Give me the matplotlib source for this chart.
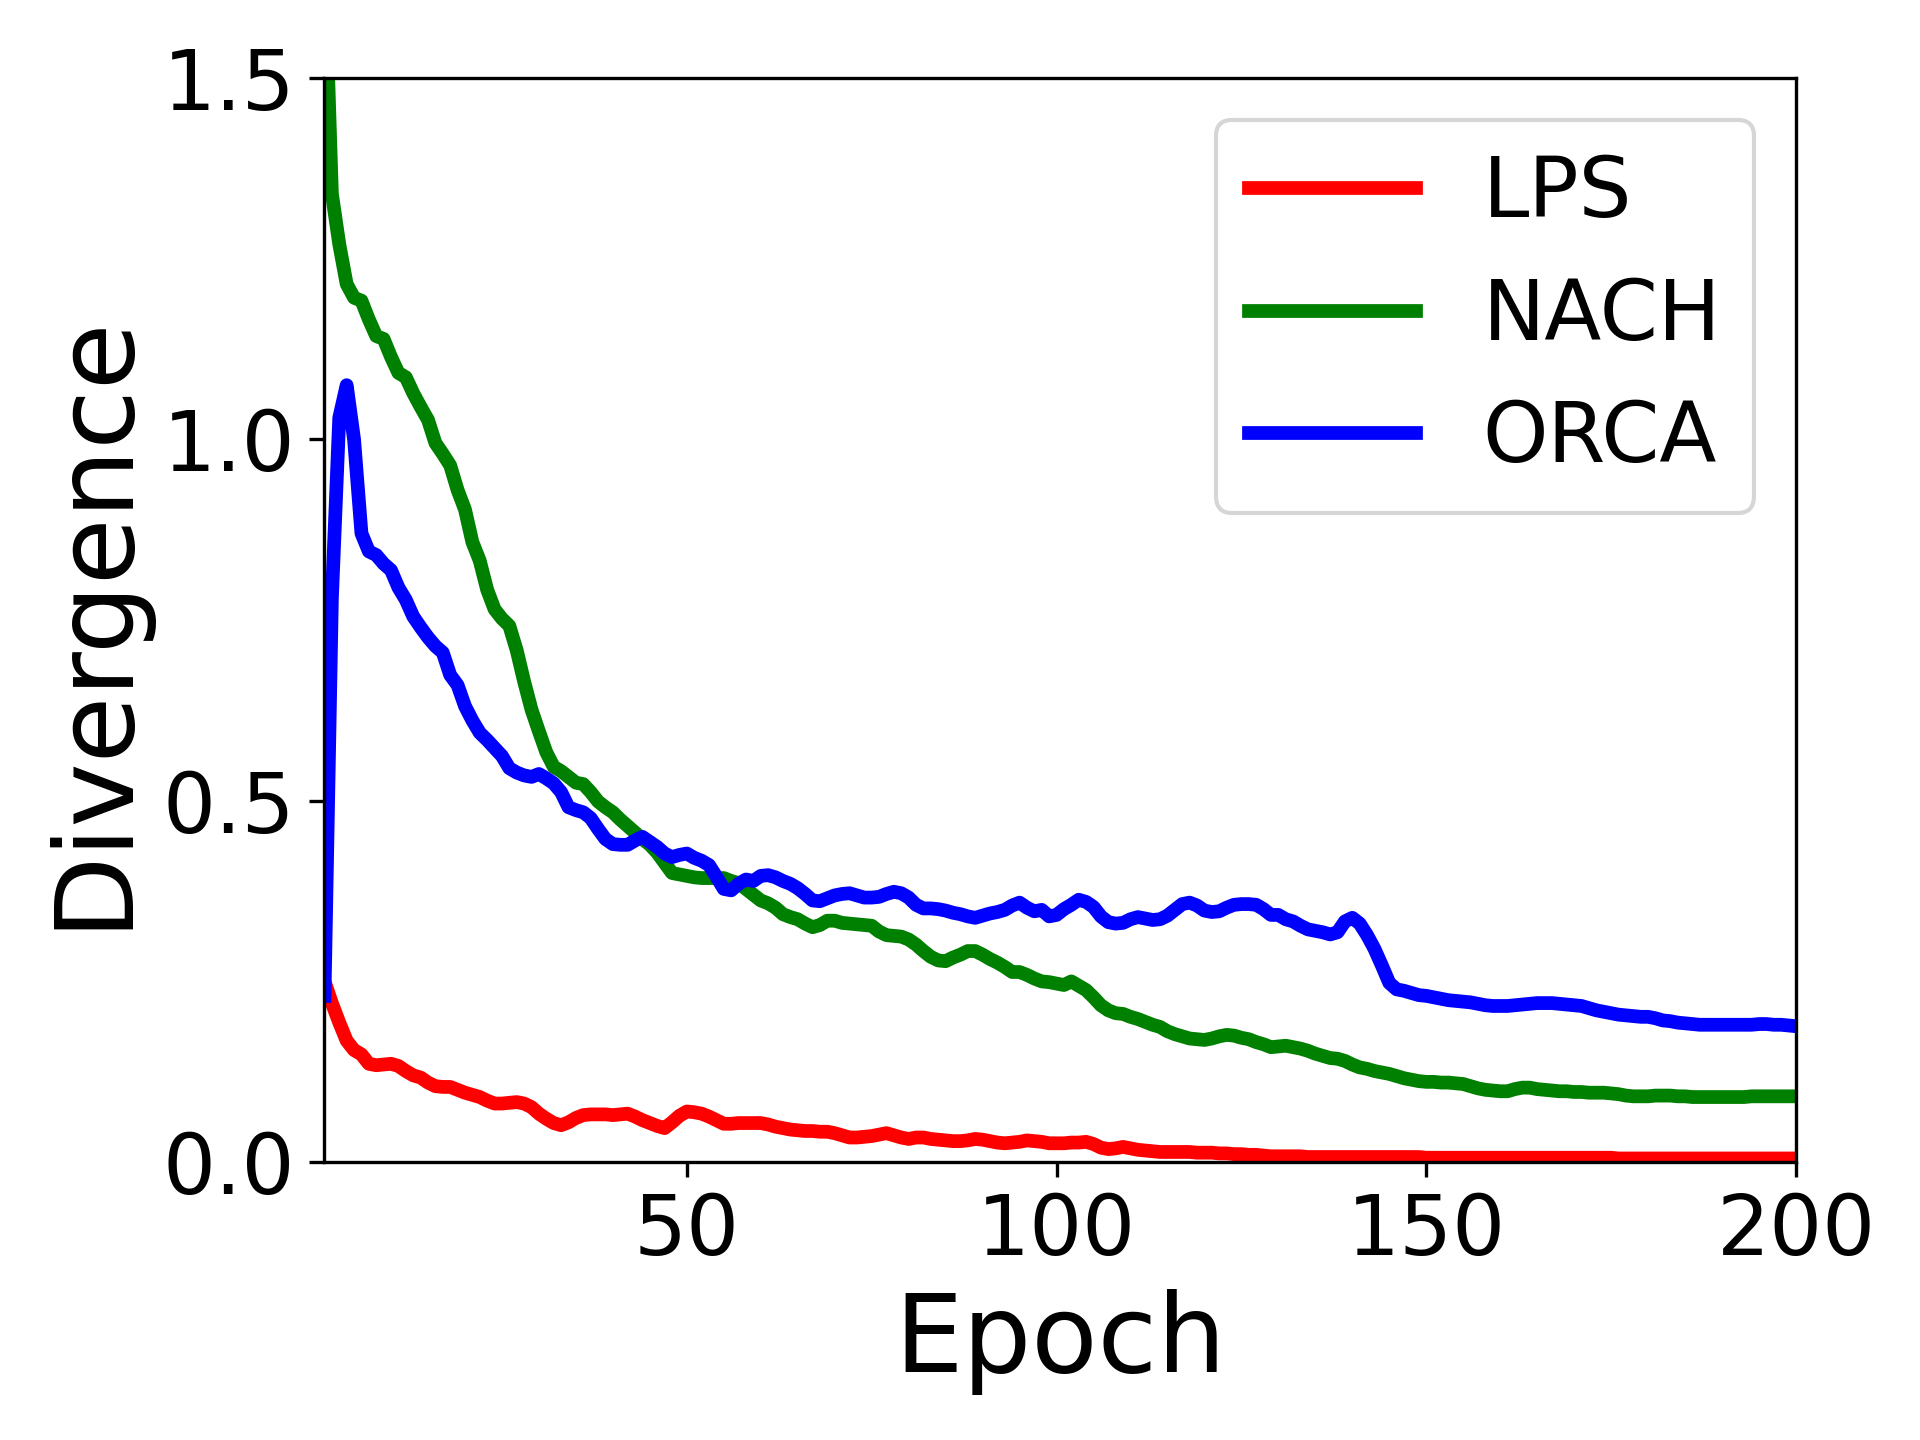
import matplotlib
matplotlib.use("Agg")
import matplotlib.pyplot as plt
import numpy as np

epochs = list(range(1, 201))

lps = [
    0.250, 0.220, 0.193, 0.168, 0.155, 0.149, 0.136, 0.134, 0.135, 0.136,
    0.133, 0.126, 0.120, 0.117, 0.110, 0.105, 0.104, 0.104, 0.100, 0.096,
    0.093, 0.090, 0.085, 0.081, 0.081, 0.082, 0.083, 0.081, 0.076, 0.067,
    0.060, 0.054, 0.051, 0.055, 0.061, 0.065, 0.066, 0.066, 0.066, 0.065,
    0.066, 0.067, 0.063, 0.058, 0.054, 0.050, 0.047, 0.055, 0.064, 0.070,
    0.069, 0.067, 0.063, 0.058, 0.053, 0.053, 0.054, 0.054, 0.054, 0.054,
    0.052, 0.049, 0.047, 0.045, 0.044, 0.043, 0.043, 0.042, 0.042, 0.040,
    0.037, 0.034, 0.034, 0.035, 0.036, 0.038, 0.040, 0.037, 0.034, 0.032,
    0.034, 0.034, 0.032, 0.031, 0.030, 0.029, 0.029, 0.030, 0.032, 0.031,
    0.029, 0.027, 0.026, 0.027, 0.028, 0.030, 0.029, 0.028, 0.026, 0.026,
    0.026, 0.027, 0.027, 0.028, 0.025, 0.020, 0.018, 0.019, 0.021, 0.019,
    0.017, 0.016, 0.015, 0.014, 0.014, 0.014, 0.014, 0.014, 0.013, 0.013,
    0.013, 0.012, 0.012, 0.011, 0.011, 0.010, 0.010, 0.009, 0.008, 0.008,
    0.008, 0.008, 0.008, 0.007, 0.007, 0.007, 0.007, 0.007, 0.007, 0.007,
    0.007, 0.007, 0.007, 0.007, 0.007, 0.007, 0.007, 0.007, 0.007, 0.006,
    0.006, 0.006, 0.006, 0.006, 0.006, 0.006, 0.006, 0.006, 0.006, 0.006,
    0.006, 0.006, 0.006, 0.006, 0.006, 0.006, 0.006, 0.006, 0.006, 0.006,
    0.006, 0.006, 0.006, 0.006, 0.006, 0.005, 0.005, 0.005, 0.005, 0.005,
    0.005, 0.005, 0.005, 0.005, 0.005, 0.005, 0.005, 0.005, 0.005, 0.005,
    0.005, 0.005, 0.005, 0.005, 0.005, 0.005, 0.005, 0.005, 0.005, 0.005,
]

nach = [
    1.660, 1.340, 1.270, 1.215, 1.196, 1.192, 1.166, 1.143, 1.139, 1.114,
    1.092, 1.086, 1.064, 1.045, 1.027, 0.995, 0.980, 0.964, 0.930, 0.903,
    0.858, 0.832, 0.792, 0.765, 0.752, 0.742, 0.708, 0.665, 0.626, 0.596,
    0.567, 0.547, 0.541, 0.533, 0.525, 0.523, 0.512, 0.499, 0.491, 0.484,
    0.474, 0.465, 0.456, 0.447, 0.439, 0.428, 0.414, 0.400, 0.398, 0.396,
    0.394, 0.393, 0.393, 0.393, 0.393, 0.389, 0.386, 0.378, 0.370, 0.362,
    0.358, 0.352, 0.343, 0.339, 0.336, 0.330, 0.325, 0.328, 0.334, 0.334,
    0.331, 0.330, 0.329, 0.328, 0.327, 0.319, 0.314, 0.313, 0.312, 0.308,
    0.301, 0.292, 0.284, 0.279, 0.278, 0.283, 0.287, 0.292, 0.292, 0.287,
    0.281, 0.276, 0.270, 0.263, 0.263, 0.259, 0.254, 0.250, 0.249, 0.247,
    0.245, 0.250, 0.244, 0.238, 0.228, 0.217, 0.210, 0.206, 0.205, 0.201,
    0.198, 0.194, 0.190, 0.187, 0.181, 0.177, 0.174, 0.171, 0.170, 0.169,
    0.171, 0.174, 0.176, 0.175, 0.172, 0.170, 0.166, 0.163, 0.159, 0.160,
    0.161, 0.159, 0.157, 0.154, 0.150, 0.147, 0.144, 0.143, 0.140, 0.135,
    0.131, 0.129, 0.126, 0.124, 0.122, 0.119, 0.116, 0.114, 0.112, 0.111,
    0.111, 0.110, 0.110, 0.109, 0.108, 0.105, 0.102, 0.100, 0.099, 0.098,
    0.098, 0.101, 0.103, 0.103, 0.101, 0.100, 0.099, 0.098, 0.098, 0.097,
    0.097, 0.096, 0.096, 0.096, 0.095, 0.094, 0.092, 0.091, 0.091, 0.091,
    0.092, 0.092, 0.092, 0.091, 0.091, 0.090, 0.090, 0.090, 0.090, 0.090,
    0.090, 0.090, 0.090, 0.091, 0.091, 0.091, 0.091, 0.091, 0.091, 0.091,
]

orca = [
    0.230, 0.780, 1.030, 1.075, 1.000, 0.870, 0.845, 0.840, 0.828, 0.819,
    0.795, 0.778, 0.755, 0.740, 0.726, 0.714, 0.705, 0.674, 0.660, 0.631,
    0.611, 0.594, 0.584, 0.573, 0.562, 0.545, 0.539, 0.535, 0.533, 0.537,
    0.531, 0.524, 0.512, 0.491, 0.487, 0.484, 0.476, 0.461, 0.447, 0.440,
    0.439, 0.439, 0.445, 0.450, 0.443, 0.436, 0.427, 0.422, 0.425, 0.427,
    0.421, 0.417, 0.411, 0.395, 0.378, 0.376, 0.385, 0.391, 0.389, 0.396,
    0.397, 0.394, 0.389, 0.385, 0.379, 0.371, 0.362, 0.361, 0.365, 0.369,
    0.371, 0.372, 0.369, 0.366, 0.366, 0.367, 0.371, 0.374, 0.372, 0.366,
    0.356, 0.351, 0.351, 0.350, 0.348, 0.345, 0.343, 0.340, 0.338, 0.341,
    0.344, 0.346, 0.349, 0.355, 0.359, 0.352, 0.347, 0.349, 0.340, 0.342,
    0.350, 0.356, 0.363, 0.360, 0.353, 0.340, 0.332, 0.330, 0.331, 0.336,
    0.339, 0.337, 0.335, 0.336, 0.341, 0.349, 0.357, 0.359, 0.355, 0.348,
    0.346, 0.347, 0.352, 0.356, 0.357, 0.357, 0.356, 0.350, 0.342, 0.342,
    0.336, 0.333, 0.327, 0.322, 0.320, 0.318, 0.315, 0.318, 0.333, 0.338,
    0.330, 0.314, 0.295, 0.272, 0.248, 0.239, 0.237, 0.234, 0.231, 0.230,
    0.228, 0.226, 0.224, 0.223, 0.222, 0.221, 0.219, 0.217, 0.216, 0.216,
    0.216, 0.217, 0.218, 0.219, 0.220, 0.220, 0.220, 0.219, 0.218, 0.217,
    0.216, 0.213, 0.210, 0.208, 0.206, 0.204, 0.203, 0.202, 0.201, 0.201,
    0.199, 0.196, 0.195, 0.193, 0.192, 0.191, 0.190, 0.190, 0.190, 0.190,
    0.190, 0.190, 0.190, 0.190, 0.191, 0.191, 0.190, 0.190, 0.189, 0.188,
]

labels = ["LPS", "NACH", "ORCA"]
colors = ["red", "green", "blue"]

fig = plt.figure(figsize=(6.4, 4.8), dpi=300)
ax = fig.add_axes([0.169, 0.193, 0.7664, 0.7528])

for series, lab, col in zip([lps, nach, orca], labels, colors):
    ax.plot(epochs, series, color=col, linewidth=3.3, label=lab)

ax.set_xlim(1, 200)
ax.set_ylim(0, 1.5)
ax.set_xticks([50, 100, 150, 200])
ax.set_yticks([0.0, 0.5, 1.0, 1.5])
ax.tick_params(axis="both", labelsize=20)
ax.set_xlabel("Epoch", fontsize=26)
ax.set_ylabel("Divergence", fontsize=26)
ax.legend(loc="upper right", fontsize=20)

fig.savefig("out.png", dpi=300)
